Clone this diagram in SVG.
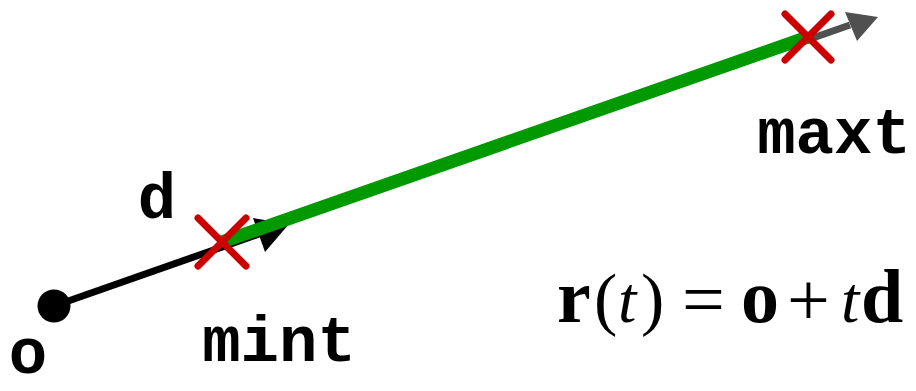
<svg xmlns="http://www.w3.org/2000/svg" width="916" height="391" viewBox="0 0 916 391">
<style>
.mono{font-family:"Courier New","Liberation Mono",monospace;font-weight:bold;font-size:64px;fill:#000;text-anchor:middle}
.eq{font-family:"Liberation Serif","Times New Roman",serif;font-size:66px;fill:#000}
.b{font-weight:bold;font-size:76px}
.i{font-style:italic;font-size:66px}
.p{font-size:70px}
.op{font-size:76px}
.cross{stroke:#cc0000;stroke-width:7;stroke-linecap:round;fill:none}
</style>
<rect width="916" height="391" fill="#fff"/>
<g id="connectors">
  <line x1="262" y1="230" x2="850" y2="25" stroke="#505050" stroke-width="7"/>
  <polygon points="878,17 845,12 857,41" fill="#505050"/>
  <line x1="54" y1="306" x2="265" y2="232" stroke="#000" stroke-width="7"/>
  <polygon points="289,224 253,218 265,252" fill="#000"/>
  <line x1="222" y1="242" x2="808" y2="37" stroke="#009900" stroke-width="13"/>
</g>
<g id="origin">
  <circle cx="54" cy="306" r="16.5" fill="#000"/>
  <text class="mono" x="28" y="373">o</text>
</g>
<g id="direction">
  <text class="mono" x="157" y="218">d</text>
</g>
<g id="mint">
  <path class="cross" d="M198,218 L246,266 M246,218 L198,266"/>
  <text class="mono" x="279" y="361">mint</text>
</g>
<g id="maxt">
  <path class="cross" d="M785,14 L831,60 M831,14 L785,60"/>
  <text class="mono" x="834" y="153">maxt</text>
</g>
<g id="equation">
  <text class="eq" y="322"><tspan class="b" x="557">r</tspan><tspan class="p" x="594">(</tspan><tspan class="i" x="618">t</tspan><tspan class="p" x="641">)</tspan><tspan class="op" x="682" y="325">=</tspan><tspan class="b" x="741" y="322">o</tspan><tspan class="op" x="787" y="325">+</tspan><tspan class="i" x="841" y="322">t</tspan><tspan class="b" x="861">d</tspan></text>
</g>
</svg>
